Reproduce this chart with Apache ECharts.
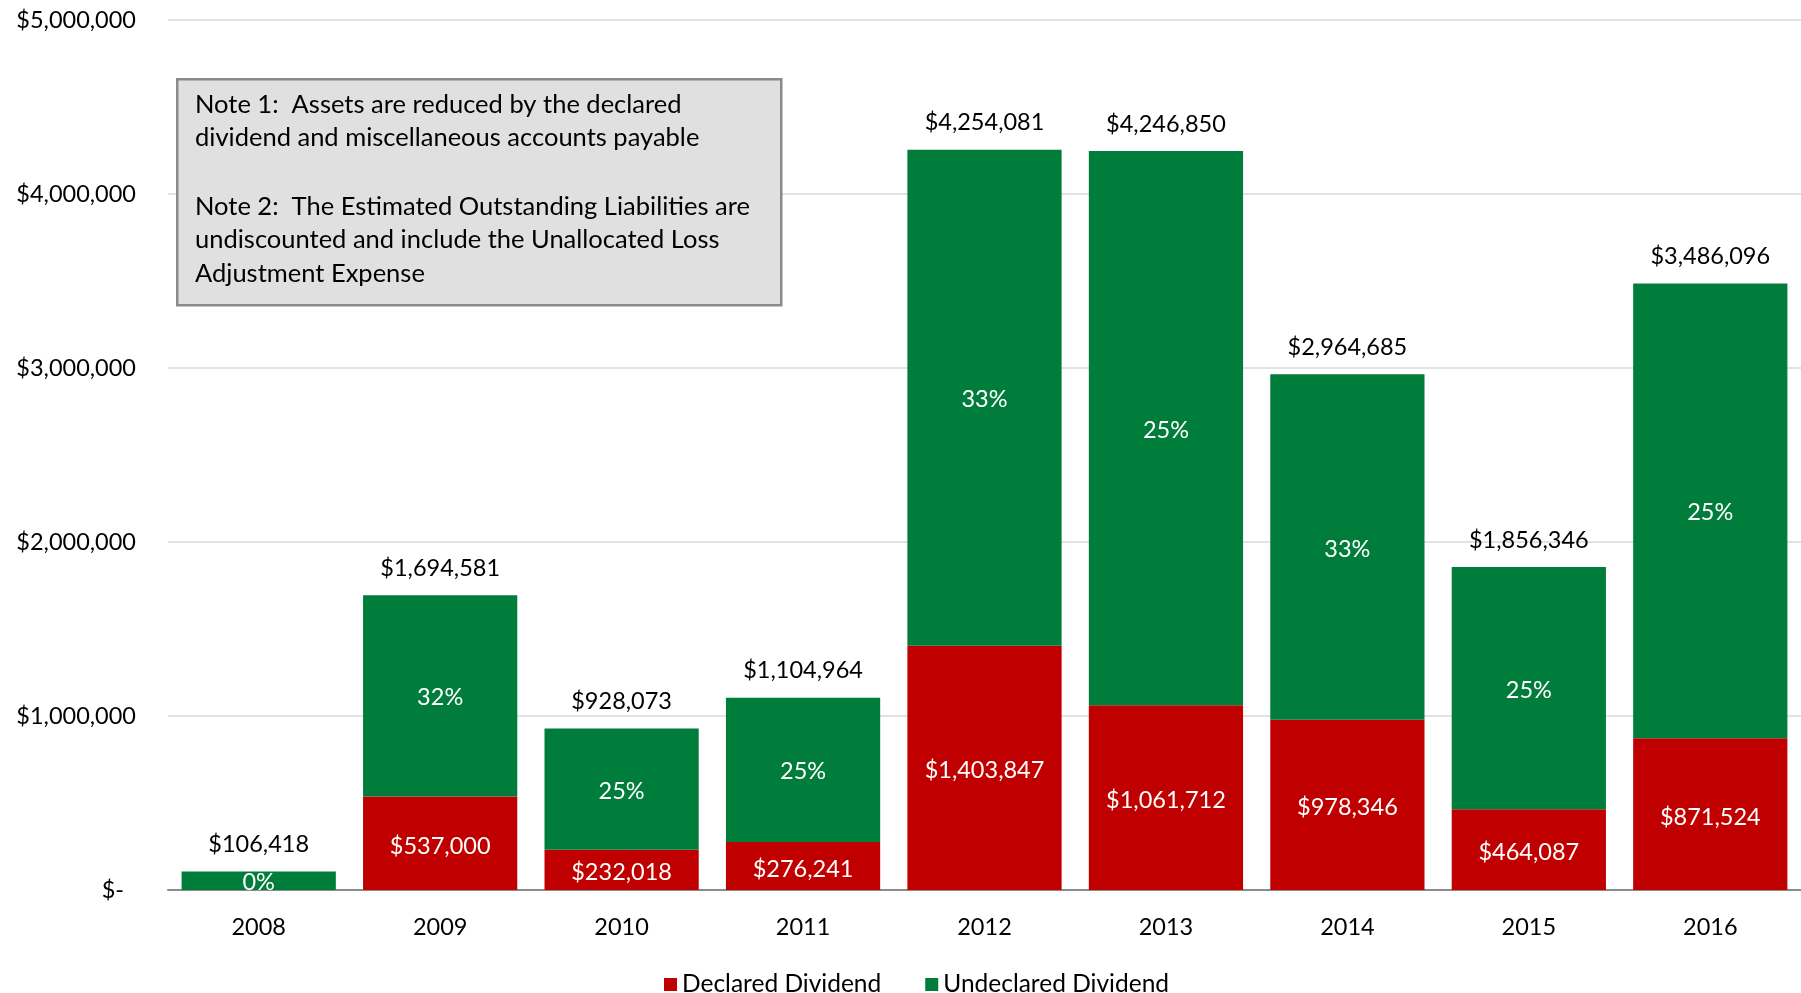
<!DOCTYPE html>
<html>
<head>
<meta charset="utf-8">
<script src="https://cdn.jsdelivr.net/npm/echarts@6/dist/echarts.min.js"></script>
<style>
  html, body { margin: 0; padding: 0; background: #fff; }
  #chart { width: 1801px; height: 993px; }
</style>
</head>
<body>
<div id="chart"></div>
<script>
// Dividend data by year
const years = ['2008', '2009', '2010', '2011', '2012', '2013', '2014', '2015', '2016'];
const declared = [0, 537000, 232018, 276241, 1403847, 1061712, 978346, 464087, 871524];
const totals = [106418, 1694581, 928073, 1104964, 4254081, 4246850, 2964685, 1856346, 3486096];
const undeclared = totals.map((t, i) => t - declared[i]);
const yTicks = [0, 1000000, 2000000, 3000000, 4000000, 5000000];

const note1 = [
  'Note 1:  Assets are reduced by the declared',
  'dividend and miscellaneous accounts payable'
];
const note2 = [
  'Note 2:  The Estimated Outstanding Liabilities are',
  'undiscounted and include the Unallocated Loss',
  'Adjustment Expense'
];

const FONT = 'Lato, "Liberation Sans", sans-serif';
const NUM_SIZE = 23.5;
const RED = '#C00000';
const GREEN = '#007D3A';

const money = v => '$' + Math.round(v).toLocaleString('en-US');

const chart = echarts.init(document.getElementById('chart'), null, { renderer: 'canvas' });

chart.setOption({
  animation: false,
  textStyle: { fontFamily: FONT },
  grid: { left: 168, right: 0, top: 20, bottom: 103, containLabel: false },
  legend: {
    data: ['Declared Dividend', 'Undeclared Dividend'],
    left: 659,
    top: 967,
    itemWidth: 13,
    itemHeight: 13,
    itemGap: 44,
    icon: 'rect',
    textStyle: { fontFamily: FONT, fontSize: 24.5, color: '#000' }
  },
  xAxis: {
    type: 'category',
    data: years,
    axisTick: { show: false },
    axisLine: { lineStyle: { color: '#8C8C8C', width: 2 } },
    axisLabel: { color: '#000', fontSize: NUM_SIZE, fontFamily: FONT, margin: 25 }
  },
  yAxis: {
    type: 'value',
    min: yTicks[0],
    max: yTicks[yTicks.length - 1],
    interval: 1000000,
    axisLine: { show: false },
    axisTick: { show: false },
    splitLine: { lineStyle: { color: '#D9D9D9', width: 1.5 } },
    axisLabel: {
      color: '#000',
      fontSize: NUM_SIZE,
      fontFamily: FONT,
      margin: 32,
      formatter: v => v === 0 ? '{z|$-}' : money(v),
      rich: { z: { fontSize: NUM_SIZE, fontFamily: FONT, color: '#000', padding: [0, 12, 0, 0] } }
    }
  },
  series: [
    {
      name: 'Declared Dividend',
      type: 'bar',
      stack: 'div',
      barCategoryGap: '15%',
      data: declared,
      itemStyle: { color: RED },
      label: {
        show: true,
        position: 'inside',
        offset: [0, 3],
        color: '#fff',
        fontSize: NUM_SIZE,
        fontFamily: FONT,
        formatter: p => p.value > 0 ? money(p.value) : ''
      },
      emphasis: { disabled: true }
    },
    {
      name: 'Undeclared Dividend',
      type: 'bar',
      stack: 'div',
      data: undeclared,
      itemStyle: { color: GREEN },
      label: {
        show: true,
        position: 'inside',
        offset: [0, 2],
        color: '#fff',
        fontSize: NUM_SIZE,
        fontFamily: FONT,
        formatter: p => Math.round(declared[p.dataIndex] / totals[p.dataIndex] * 100) + '%'
      },
      emphasis: { disabled: true }
    },
    {
      // zero-height cap carrying the total label above each stack
      name: 'Total',
      type: 'bar',
      stack: 'div',
      data: years.map(() => 0),
      itemStyle: { color: 'rgba(0,0,0,0)' },
      label: {
        show: true,
        position: 'top',
        distance: 15,
        color: '#000',
        fontSize: NUM_SIZE,
        fontFamily: FONT,
        formatter: p => money(totals[p.dataIndex])
      },
      emphasis: { disabled: true },
      tooltip: { show: false }
    }
  ],
  graphic: [
    {
      type: 'rect',
      left: 176,
      top: 78,
      shape: { width: 604, height: 226 },
      style: { fill: '#E0E0E0', stroke: '#8A8A8A', lineWidth: 2.5 },
      z: 100
    },
    {
      type: 'text',
      left: 195,
      top: 88,
      style: { text: note1.join('\n'), font: '25.5px ' + FONT, fill: '#000', lineHeight: 33 },
      z: 101
    },
    {
      type: 'text',
      left: 195,
      top: 190,
      style: { text: note2.join('\n'), font: '25.5px ' + FONT, fill: '#000', lineHeight: 33.5 },
      z: 101
    }
  ]
});
</script>
</body>
</html>
